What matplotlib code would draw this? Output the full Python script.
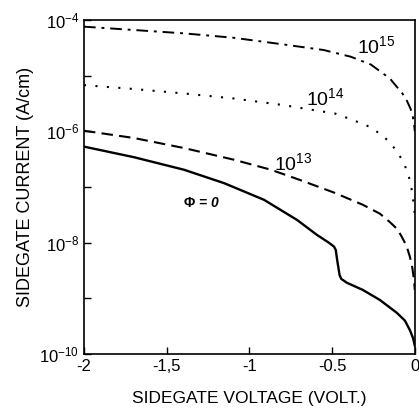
import numpy as np
import matplotlib.pyplot as plt

# Sidegate current vs sidegate voltage for several fluences (log10 of A/cm)
v_15 = [-2.0, -1.698, -1.396, -1.094, -0.792, -0.55, -0.387, -0.266, -0.211, -0.151, -0.109, -0.075, -0.048, -0.025, -0.012, -0.004, 0.0]
i_15 = [-4.12, -4.18, -4.24, -4.32, -4.44, -4.54, -4.66, -4.8, -4.92, -5.05, -5.2, -5.32, -5.45, -5.6, -5.74, -5.88, -6.0]

v_14 = [-2.0, -1.698, -1.396, -1.094, -0.792, -0.65, -0.483, -0.38, -0.272, -0.193, -0.145, -0.109, -0.075, -0.048, -0.03, -0.018, -0.008, 0.0]
i_14 = [-5.17, -5.24, -5.32, -5.41, -5.53, -5.6, -5.68, -5.79, -5.92, -6.08, -6.22, -6.36, -6.52, -6.7, -6.88, -7.06, -7.28, -7.5]

v_13 = [-2.0, -1.698, -1.396, -1.094, -0.87, -0.689, -0.489, -0.314, -0.211, -0.151, -0.105, -0.078, -0.05, -0.03, -0.015, -0.005, 0.0]
i_13 = [-5.99, -6.12, -6.3, -6.51, -6.69, -6.88, -7.1, -7.32, -7.48, -7.63, -7.76, -7.9, -8.06, -8.25, -8.45, -8.67, -8.85]

v_0 = [-2.0, -1.698, -1.396, -1.154, -0.912, -0.713, -0.592, -0.52, -0.489, -0.478, -0.47, -0.462, -0.455, -0.445, -0.411, -0.314, -0.211, -0.109, -0.06, -0.03, -0.01, 0.0]
i_0 = [-6.275, -6.465, -6.69, -6.93, -7.23, -7.59, -7.86, -8.0, -8.07, -8.13, -8.3, -8.45, -8.58, -8.65, -8.72, -8.85, -9.03, -9.26, -9.4, -9.57, -9.72, -9.85]

xticks = [-2, -1.5, -1, -0.5, 0]
xticklabels = ['-2', '-1,5', '-1', '-0.5', '0']
yticks = [1e-10, 1e-8, 1e-6, 1e-4]
yticklabels = ['$10^{-10}$', '$10^{-8}$', '$10^{-6}$', '$10^{-4}$']

plt.rcParams['font.family'] = ['Liberation Sans', 'DejaVu Sans']
plt.rcParams['mathtext.fontset'] = 'custom'
plt.rcParams['mathtext.rm'] = 'Liberation Sans'
plt.rcParams['mathtext.it'] = 'Liberation Sans:italic'
plt.rcParams['mathtext.bf'] = 'Liberation Sans:bold'

fig = plt.figure(figsize=(4.19, 4.13), dpi=100)
ax = fig.add_axes([0.2005, 0.1429, 0.7895, 0.8087])

ax.plot(v_15, 10 ** np.array(i_15), color='black', lw=1.4, dashes=(6, 3, 1.5, 3))
ax.plot(v_14, 10 ** np.array(i_14), color='black', lw=1.5, dashes=(1, 4.5))
ax.plot(v_13, 10 ** np.array(i_13), color='black', lw=1.5, dashes=(5.5, 3))
ax.plot(v_0, 10 ** np.array(i_0), color='black', lw=1.7)

ax.set_yscale('log')
ax.set_xlim(-2, 0)
ax.set_ylim(1e-10, 1e-4)

ax.set_xticks(xticks)
ax.set_xticklabels(xticklabels, fontsize=12)
ax.set_yticks(yticks)
ax.set_yticklabels(yticklabels, fontsize=12)
ax.set_yticks([1e-9, 1e-7, 1e-5], minor=True)
ax.yaxis.set_minor_formatter(plt.NullFormatter())
ax.tick_params(which='both', direction='in', length=5, width=1)

for s in ax.spines.values():
    s.set_linewidth(1.2)

ax.set_xlabel('SIDEGATE VOLTAGE (VOLT.)', fontsize=12.5, labelpad=12)
ax.set_ylabel('SIDEGATE CURRENT (A/cm)', fontsize=13, labelpad=4)

# curve labels
ax.text(-0.35, 10 ** -4.59, '$10^{15}$', fontsize=14)
ax.text(-0.66, 10 ** -5.53, '$10^{14}$', fontsize=14)
ax.text(-0.852, 10 ** -6.69, '$10^{13}$', fontsize=14, style='italic')
ax.text(-1.40, 10 ** -7.28, '$\\mathbf{\\Phi}$ = 0', fontsize=10, style='italic',
        fontweight='bold', va='center')

fig.savefig('out.png', dpi=100)
